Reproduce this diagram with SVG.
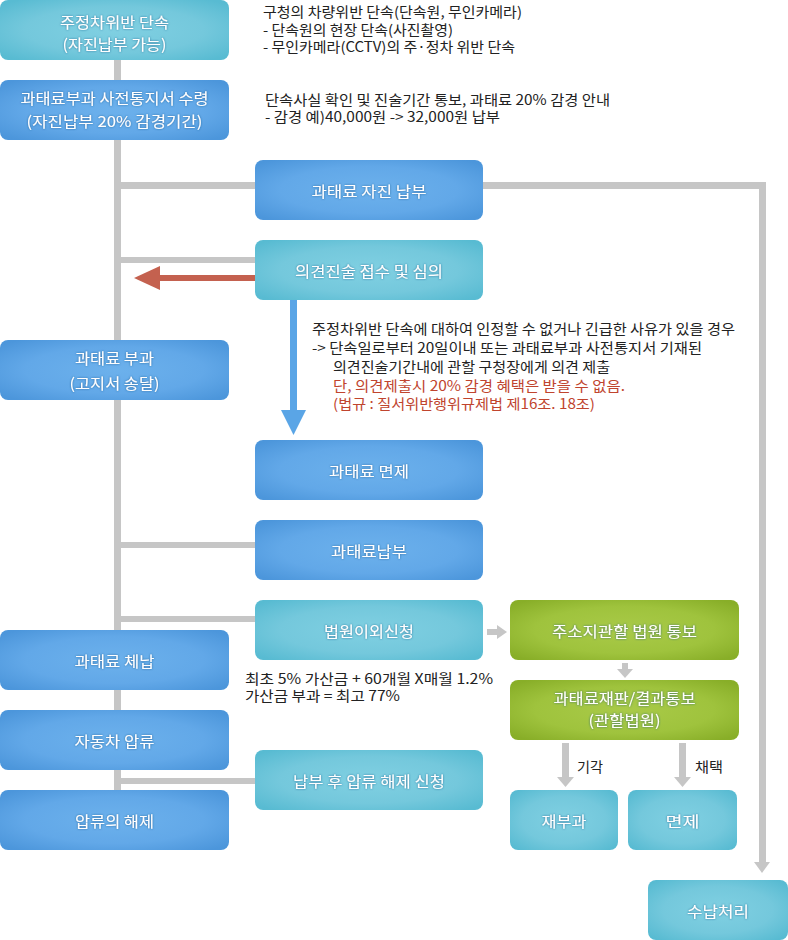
<svg xmlns="http://www.w3.org/2000/svg" width="788" height="940" viewBox="0 0 788 940">
<defs>
<radialGradient id="gBlue" cx="50%" cy="50%" r="65%">
<stop offset="0" stop-color="#6cb1ec"/><stop offset="0.6" stop-color="#62a8e8"/><stop offset="1" stop-color="#4c96db"/>
</radialGradient>
<radialGradient id="gTeal" cx="50%" cy="50%" r="65%">
<stop offset="0" stop-color="#80d0e2"/><stop offset="0.6" stop-color="#74c8dc"/><stop offset="1" stop-color="#58bbd2"/>
</radialGradient>
<radialGradient id="gGreen" cx="50%" cy="50%" r="65%">
<stop offset="0" stop-color="#a9ca48"/><stop offset="0.6" stop-color="#9fc33d"/><stop offset="1" stop-color="#88ae28"/>
</radialGradient>
<filter id="ts" x="-10%" y="-30%" width="120%" height="160%">
<feDropShadow dx="0" dy="0" stdDeviation="0.8" flood-color="#1d5585" flood-opacity="0.75"/>
</filter>
<style>
.blue{fill:url(#gBlue)}
.teal{fill:url(#gTeal)}
.green{fill:url(#gGreen)}
.bt{fill:#ffffff;font-family:"Noto Sans CJK KR","Noto Sans",sans-serif;font-size:15px;text-anchor:middle;dominant-baseline:central;filter:url(#ts)}
.d{fill:#222222;font-family:"Noto Sans CJK KR","Noto Sans",sans-serif;font-size:14px}
.r{fill:#c0442e}
.c{fill:#c6c6c6}
</style>
</defs>
<rect width="788" height="940" fill="#ffffff"/>
<g id="connectors">
<rect class="c" x="114" y="60" width="7" height="730"/>
<rect class="c" x="114" y="182" width="141" height="7"/>
<rect class="c" x="483" y="182" width="283" height="7"/>
<rect class="c" x="759" y="182" width="7" height="681"/>
<polygon class="c" points="754,862 770,862 762,873"/>
<rect class="c" x="114" y="257" width="141" height="6"/>
<rect class="c" x="114" y="542" width="141" height="6"/>
<rect class="c" x="114" y="616" width="141" height="6"/>
<rect class="c" x="114" y="778" width="141" height="6"/>
<rect x="158" y="275" width="97" height="6" fill="#c4614f"/>
<polygon points="134,278 160,266 160,290" fill="#c4614f"/>
<rect x="290" y="299" width="7" height="112" fill="#5aa5e6"/>
<polygon points="281,410 306,410 293.5,435" fill="#5aa5e6"/>
<rect class="c" x="487" y="629" width="11" height="6"/>
<polygon class="c" points="497,625 497,639 507,632"/>
<rect class="c" x="622" y="663" width="6" height="7"/>
<polygon class="c" points="617,669 633,669 625,678"/>
<rect class="c" x="562" y="743" width="7" height="35"/>
<polygon class="c" points="557,777 574,777 565.5,787"/>
<rect class="c" x="679" y="743" width="7" height="35"/>
<polygon class="c" points="674,777 691,777 682.5,787"/>
<text class="d" x="577" y="772" textLength="26" lengthAdjust="spacingAndGlyphs">기각</text>
<text class="d" x="695" y="772" textLength="28" lengthAdjust="spacingAndGlyphs">채택</text>
</g>
<g id="notes">
<text class="d" x="263" y="17" textLength="259" lengthAdjust="spacingAndGlyphs">구청의 차량위반 단속(단속원, 무인카메라)</text>
<text class="d" x="263" y="35" textLength="190" lengthAdjust="spacingAndGlyphs">- 단속원의 현장 단속(사진촬영)</text>
<text class="d" x="263" y="52" textLength="252" lengthAdjust="spacingAndGlyphs">- 무인카메라(CCTV)의 주·정차 위반 단속</text>
<text class="d" x="265" y="105" textLength="345" lengthAdjust="spacingAndGlyphs">단속사실 확인 및 진술기간 통보, 과태료 20% 감경 안내</text>
<text class="d" x="265" y="122" textLength="235" lengthAdjust="spacingAndGlyphs">- 감경 예)40,000원 -&gt; 32,000원 납부</text>
<text class="d" x="312" y="334" textLength="423" lengthAdjust="spacingAndGlyphs">주정차위반 단속에 대하여 인정할 수 없거나 긴급한 사유가 있을 경우</text>
<text class="d" x="312" y="353" textLength="390" lengthAdjust="spacingAndGlyphs">-&gt; 단속일로부터 20일이내 또는 과태료부과 사전통지서 기재된</text>
<text class="d" x="333" y="372" textLength="277" lengthAdjust="spacingAndGlyphs">의견진술기간내에 관할 구청장에게 의견 제출</text>
<text class="d r" x="333" y="391" textLength="292" lengthAdjust="spacingAndGlyphs">단, 의견제출시 20% 감경 혜택은 받을 수 없음.</text>
<text class="d r" x="333" y="409" textLength="262" lengthAdjust="spacingAndGlyphs">(법규 : 질서위반행위규제법 제16조. 18조)</text>
<text class="d" x="245" y="684" textLength="248" lengthAdjust="spacingAndGlyphs">최초 5% 가산금 + 60개월 X매월 1.2%</text>
<text class="d" x="245" y="701" textLength="155" lengthAdjust="spacingAndGlyphs">가산금 부과 = 최고 77%</text>
</g>
<g id="n1"><rect class="teal" x="0" y="0" width="229" height="60" rx="8"/><text class="bt" x="114.5" y="21" textLength="109" lengthAdjust="spacingAndGlyphs">주정차위반 단속</text><text class="bt" x="114.5" y="43" textLength="104" lengthAdjust="spacingAndGlyphs">(자진납부 가능)</text></g>
<g id="n2"><rect class="blue" x="0" y="80" width="229" height="60" rx="8"/><text class="bt" x="114.5" y="97" textLength="188" lengthAdjust="spacingAndGlyphs">과태료부과 사전통지서 수령</text><text class="bt" x="114.5" y="120" textLength="176" lengthAdjust="spacingAndGlyphs">(자진납부 20% 감경기간)</text></g>
<g id="n3"><rect class="blue" x="255" y="160" width="228" height="60" rx="8"/><text class="bt" x="369" y="190" textLength="115" lengthAdjust="spacingAndGlyphs">과태료 자진 납부</text></g>
<g id="n4"><rect class="teal" x="255" y="240" width="228" height="60" rx="8"/><text class="bt" x="369" y="270" textLength="148" lengthAdjust="spacingAndGlyphs">의견진술 접수 및 심의</text></g>
<g id="n5"><rect class="blue" x="0" y="340" width="229" height="60" rx="8"/><text class="bt" x="114.5" y="357.5" textLength="79" lengthAdjust="spacingAndGlyphs">과태료 부과</text><text class="bt" x="114.5" y="382.5" textLength="90" lengthAdjust="spacingAndGlyphs">(고지서 송달)</text></g>
<g id="n6"><rect class="blue" x="255" y="440" width="228" height="60" rx="8"/><text class="bt" x="369" y="470" textLength="80" lengthAdjust="spacingAndGlyphs">과태료 면제</text></g>
<g id="n7"><rect class="blue" x="255" y="520" width="228" height="60" rx="8"/><text class="bt" x="369" y="550" textLength="76" lengthAdjust="spacingAndGlyphs">과태료납부</text></g>
<g id="n8"><rect class="teal" x="255" y="600" width="228" height="60" rx="8"/><text class="bt" x="369" y="630" textLength="90" lengthAdjust="spacingAndGlyphs">법원이외신청</text></g>
<g id="n9"><rect class="green" x="510" y="600" width="229" height="60" rx="8"/><text class="bt" x="624.5" y="630" textLength="145" lengthAdjust="spacingAndGlyphs">주소지관할 법원 통보</text></g>
<g id="n10"><rect class="green" x="510" y="680" width="229" height="60" rx="8"/><text class="bt" x="624.5" y="697.5" textLength="142" lengthAdjust="spacingAndGlyphs">과태료재판/결과통보</text><text class="bt" x="624.5" y="719" textLength="72" lengthAdjust="spacingAndGlyphs">(관할법원)</text></g>
<g id="n11"><rect class="blue" x="0" y="630" width="229" height="60" rx="8"/><text class="bt" x="114.5" y="660" textLength="80" lengthAdjust="spacingAndGlyphs">과태료 체납</text></g>
<g id="n12"><rect class="blue" x="0" y="710" width="229" height="60" rx="8"/><text class="bt" x="114.5" y="740" textLength="80" lengthAdjust="spacingAndGlyphs">자동차 압류</text></g>
<g id="n13"><rect class="blue" x="0" y="790" width="229" height="60" rx="8"/><text class="bt" x="114.5" y="820" textLength="79" lengthAdjust="spacingAndGlyphs">압류의 해제</text></g>
<g id="n14"><rect class="teal" x="255" y="750" width="228" height="60" rx="8"/><text class="bt" x="369" y="780" textLength="152" lengthAdjust="spacingAndGlyphs">납부 후 압류 해제 신청</text></g>
<g id="n15"><rect class="teal" x="510" y="790" width="108" height="60" rx="8"/><text class="bt" x="564" y="820" textLength="45" lengthAdjust="spacingAndGlyphs">재부과</text></g>
<g id="n16"><rect class="teal" x="628" y="790" width="109" height="60" rx="8"/><text class="bt" x="682.5" y="820" textLength="34" lengthAdjust="spacingAndGlyphs">면제</text></g>
<g id="n17"><rect class="teal" x="648" y="880" width="140" height="60" rx="8"/><text class="bt" x="718" y="910" textLength="62" lengthAdjust="spacingAndGlyphs">수납처리</text></g>
</svg>
